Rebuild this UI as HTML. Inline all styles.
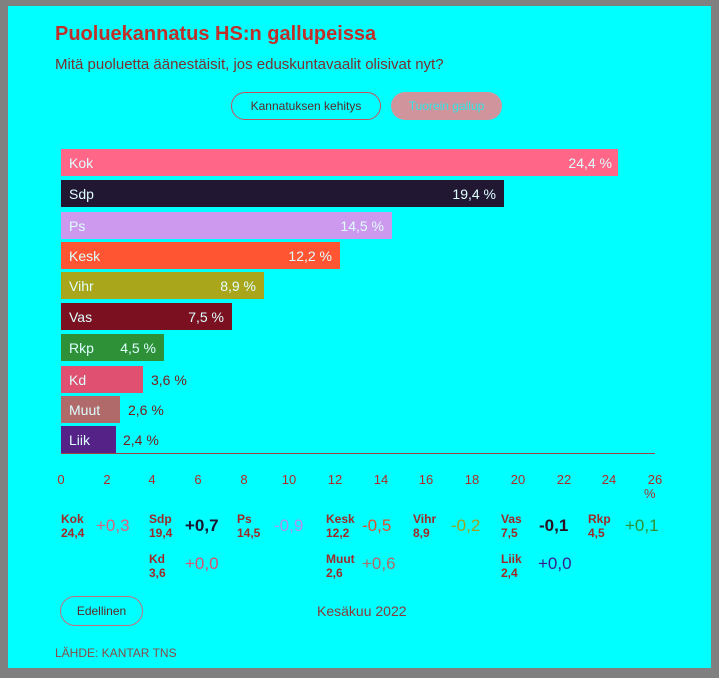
<!DOCTYPE html>
<html><head><meta charset="utf-8"><style>
body{margin:0;width:719px;height:678px;background:#808080;font-family:"Liberation Sans",sans-serif;overflow:hidden}
#c{position:absolute;left:8px;top:6px;width:703px;height:662px;background:#00ffff}
.a{position:absolute;white-space:nowrap}
.bar{position:absolute;left:53px;height:27px}
.bl{position:absolute;left:8px;top:6px;font-size:14px;color:#dfffff;white-space:nowrap}
.bv{position:absolute;top:6px;font-size:14px;color:#dfffff;text-align:right;white-space:nowrap}
.ov{position:absolute;top:6px;font-size:14px;color:#7a1a1a;white-space:nowrap}
.tk{position:absolute;top:466px;font-size:13px;color:#b02a2a;width:30px;text-align:center}
.p{position:absolute;font-size:12px;font-weight:bold;color:#a02a2a;line-height:14px}
.d{position:absolute;font-size:17px}
</style></head><body><div id="c">
<div class="a" style="left:47px;top:17px;font-size:20px;font-weight:bold;color:#c0302a">Puoluekannatus HS:n gallupeissa</div>
<div class="a" style="left:47px;top:50px;font-size:15px;color:#7a3030">Mitä puoluetta äänestäisit, jos eduskuntavaalit olisivat nyt?</div>
<div class="a" style="left:223px;top:86px;width:150px;height:28px;border:1px solid #c85060;border-radius:15px;box-sizing:border-box;font-size:12px;line-height:26px;text-align:center;color:#5a2a2a">Kannatuksen kehitys</div>
<div class="a" style="left:383px;top:86px;width:111px;height:28px;border-radius:15px;background:#d0949c;font-size:12px;line-height:28px;text-align:center;color:#33e6e6">Tuorein gallup</div>

<div class="bar" style="top:143px;width:557px;background:#ff6688"><span class="bl">Kok</span><span class="bv" style="right:6px">24,4 %</span></div>
<div class="bar" style="top:174px;width:443px;background:#221733"><span class="bl">Sdp</span><span class="bv" style="right:8px">19,4 %</span></div>
<div class="bar" style="top:206px;width:331px;background:#cc99ee"><span class="bl">Ps</span><span class="bv" style="right:8px">14,5 %</span></div>
<div class="bar" style="top:236px;width:279px;background:#ff5533"><span class="bl">Kesk</span><span class="bv" style="right:8px">12,2 %</span></div>
<div class="bar" style="top:266px;width:203px;background:#aaa61c"><span class="bl">Vihr</span><span class="bv" style="right:8px">8,9 %</span></div>
<div class="bar" style="top:297px;width:171px;background:#7a1020"><span class="bl">Vas</span><span class="bv" style="right:8px">7,5 %</span></div>
<div class="bar" style="top:328px;width:103px;background:#2e9138"><span class="bl">Rkp</span><span class="bv" style="right:8px">4,5 %</span></div>
<div class="bar" style="top:360px;width:82px;background:#e05070"><span class="bl">Kd</span><span class="ov" style="left:90px">3,6 %</span></div>
<div class="bar" style="top:390px;width:59px;background:#b06a6a"><span class="bl">Muut</span><span class="ov" style="left:67px">2,6 %</span></div>
<div class="bar" style="top:420px;width:55px;background:#552288"><span class="bl">Liik</span><span class="ov" style="left:62px">2,4 %</span></div>
<div class="a" style="left:53px;top:447px;width:594px;height:1px;background:#a04040"></div>
<div class="tk" style="left:38px">0</div><div class="tk" style="left:84px">2</div><div class="tk" style="left:129px">4</div><div class="tk" style="left:175px">6</div><div class="tk" style="left:221px">8</div><div class="tk" style="left:266px">10</div><div class="tk" style="left:312px">12</div><div class="tk" style="left:358px">14</div><div class="tk" style="left:403px">16</div><div class="tk" style="left:449px">18</div><div class="tk" style="left:495px">20</div><div class="tk" style="left:541px">22</div><div class="tk" style="left:586px">24</div><div class="tk" style="left:632px">26</div>
<div class="a" style="left:636px;top:480px;font-size:13px;color:#b02a2a">%</div>

<div class="p" style="left:53px;top:506px">Kok<br>24,4</div><div class="d" style="left:88px;top:510px;color:#e06080">+0,3</div>
<div class="p" style="left:141px;top:506px">Sdp<br>19,4</div><div class="d" style="left:177px;top:510px;color:#1a1530;font-weight:bold">+0,7</div>
<div class="p" style="left:229px;top:506px">Ps<br>14,5</div><div class="d" style="left:266px;top:510px;color:#b090e8">-0,9</div>
<div class="p" style="left:318px;top:506px">Kesk<br>12,2</div><div class="d" style="left:354px;top:510px;color:#e05030">-0,5</div>
<div class="p" style="left:405px;top:506px">Vihr<br>8,9</div><div class="d" style="left:443px;top:510px;color:#a0a020">-0,2</div>
<div class="p" style="left:493px;top:506px">Vas<br>7,5</div><div class="d" style="left:531px;top:510px;color:#2a1020;font-weight:bold">-0,1</div>
<div class="p" style="left:580px;top:506px">Rkp<br>4,5</div><div class="d" style="left:617px;top:510px;color:#2e9138">+0,1</div>
<div class="p" style="left:141px;top:546px">Kd<br>3,6</div><div class="d" style="left:177px;top:548px;color:#e05070">+0,0</div>
<div class="p" style="left:318px;top:546px">Muut<br>2,6</div><div class="d" style="left:354px;top:548px;color:#b06a6a">+0,6</div>
<div class="p" style="left:493px;top:546px">Liik<br>2,4</div><div class="d" style="left:530px;top:548px;color:#3a2090">+0,0</div>

<div class="a" style="left:52px;top:590px;width:83px;height:30px;border:1px solid #c07080;border-radius:15px;box-sizing:border-box;font-size:12px;line-height:28px;text-align:center;color:#5a2a2a">Edellinen</div>
<div class="a" style="left:309px;top:597px;font-size:14px;color:#8a3a3a">Kesäkuu 2022</div>
<div class="a" style="left:47px;top:640px;font-size:12px;color:#8a4a4a">LÄHDE: KANTAR TNS</div>
</div></body></html>
